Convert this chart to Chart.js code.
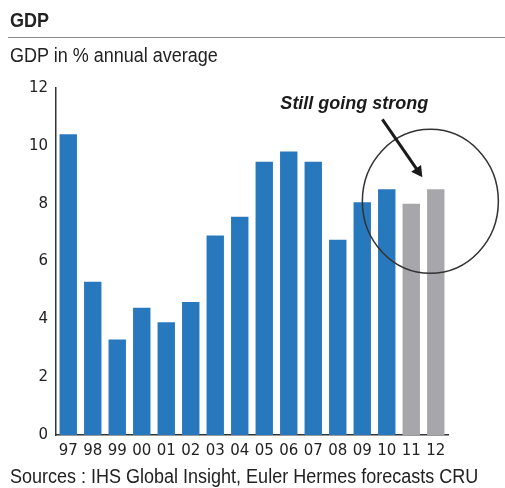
<!DOCTYPE html>
<html>
<head>
<meta charset="utf-8">
<script src="https://cdn.jsdelivr.net/npm/chart.js@4"></script>
<style>
  body { margin: 0; background: #fff; }
  #quadro { position: relative; width: 505px; height: 488px; overflow: hidden; }
  #quadro canvas { position: absolute; left: 0; top: 0; }
  .texto { position: absolute; left: 10px; color: #222; white-space: nowrap; font-family: "Liberation Sans", sans-serif; transform-origin: left top; transform: scaleX(0.9); }
  #titulo { top: 9px; font-size: 20px; font-weight: bold; }
  #linha { position: absolute; left: 8px; right: 0; top: 37px; height: 0; border-top: 1.5px solid #8a8a8a; }
  #subtitulo { top: 44px; font-size: 20px; }
  #fontes { top: 465px; font-size: 20px; }
</style>
</head>
<body>
<div id="quadro">
  <canvas id="graficoCanvas" width="505" height="488"></canvas>
  <div class="texto" id="titulo">GDP</div>
  <div id="linha"></div>
  <div class="texto" id="subtitulo">GDP in % annual average</div>
  <div class="texto" id="fontes">Sources : IHS Global Insight, Euler Hermes forecasts CRU</div>
</div>
<script>
// Dados do gráfico
const anos = ['97', '98', '99', '00', '01', '02', '03', '04', '05', '06', '07', '08', '09', '10', '11', '12'];
const pib = [10.4, 5.3, 3.3, 4.4, 3.9, 4.6, 6.9, 7.55, 9.45, 9.8, 9.45, 6.75, 8.05, 8.5, 8.0, 8.5];
const anosPrevisao = ['11', '12'];
const ticksY = [0, 2, 4, 6, 8, 10, 12];

const corHistorico = '#2878be';
const corPrevisao = '#a7a7ab';

// Cores: azul para o histórico, cinza para as previsões
const cores = anos.map(a => anosPrevisao.includes(a) ? corPrevisao : corHistorico);

// Círculo, seta e texto sobre as previsões
const destaque = {
    id: 'destaque',
    afterDatasetsDraw(chart) {
        const ctx = chart.ctx;
        const x = chart.scales.x;
        const y = chart.scales.y;
        const cx = x.getPixelForValue(14.78);
        const cy = y.getPixelForValue(8.08);

        ctx.save();
        ctx.strokeStyle = '#333';
        ctx.lineWidth = 1.5;
        ctx.beginPath();
        ctx.ellipse(cx, cy, 68, 72, 0, 0, Math.PI * 2);
        ctx.stroke();

        // seta
        const x0 = cx - 48, y0 = cy - 82;
        const x1 = cx - 8, y1 = cy - 24;
        const ang = Math.atan2(y1 - y0, x1 - x0);
        ctx.strokeStyle = '#1a1a1a';
        ctx.fillStyle = '#1a1a1a';
        ctx.lineWidth = 3;
        ctx.beginPath();
        ctx.moveTo(x0, y0);
        ctx.lineTo(x1 - 6 * Math.cos(ang), y1 - 6 * Math.sin(ang));
        ctx.stroke();
        ctx.beginPath();
        ctx.moveTo(x1, y1);
        ctx.lineTo(x1 - 11 * Math.cos(ang) + 6 * Math.sin(ang), y1 - 11 * Math.sin(ang) - 6 * Math.cos(ang));
        ctx.lineTo(x1 - 11 * Math.cos(ang) - 6 * Math.sin(ang), y1 - 11 * Math.sin(ang) + 6 * Math.cos(ang));
        ctx.closePath();
        ctx.fill();

        ctx.font = 'italic bold 18px "Liberation Sans", sans-serif';
        ctx.textAlign = 'center';
        ctx.textBaseline = 'alphabetic';
        ctx.fillText('Still going strong', cx - 76, cy - 92);
        ctx.restore();
    }
};

const grafico = new Chart(document.getElementById('graficoCanvas').getContext('2d'), {
    type: 'bar',
    data: {
        labels: anos,
        datasets: [{
            label: 'GDP',
            data: pib,
            backgroundColor: cores,
            barPercentage: 0.71,
            categoryPercentage: 1
        }]
    },
    options: {
        responsive: false,
        animation: false,
        layout: { padding: { top: 88, right: 57, left: 0, bottom: 0 } },
        plugins: {
            legend: { display: false },
            tooltip: { enabled: false }
        },
        scales: {
            x: {
                grid: { display: false, drawTicks: false },
                border: { display: true, color: '#333', width: 1.5 },
                ticks: {
                    color: '#222',
                    padding: 7,
                    maxRotation: 0,
                    autoSkip: false,
                    font: { family: 'DejaVu Sans', size: 15 }
                },
                afterFit(scale) { scale.height = 53; }
            },
            y: {
                min: 0,
                max: 12,
                afterBuildTicks(scale) { scale.ticks = ticksY.map(v => ({ value: v })); },
                grid: { display: false, drawTicks: false },
                border: { display: true, color: '#333', width: 1.5 },
                ticks: {
                    color: '#222',
                    padding: 8,
                    font: { family: 'DejaVu Sans', size: 15 }
                },
                afterFit(scale) { scale.width = 56; }
            }
        }
    },
    plugins: [destaque]
});
</script>
</body>
</html>
